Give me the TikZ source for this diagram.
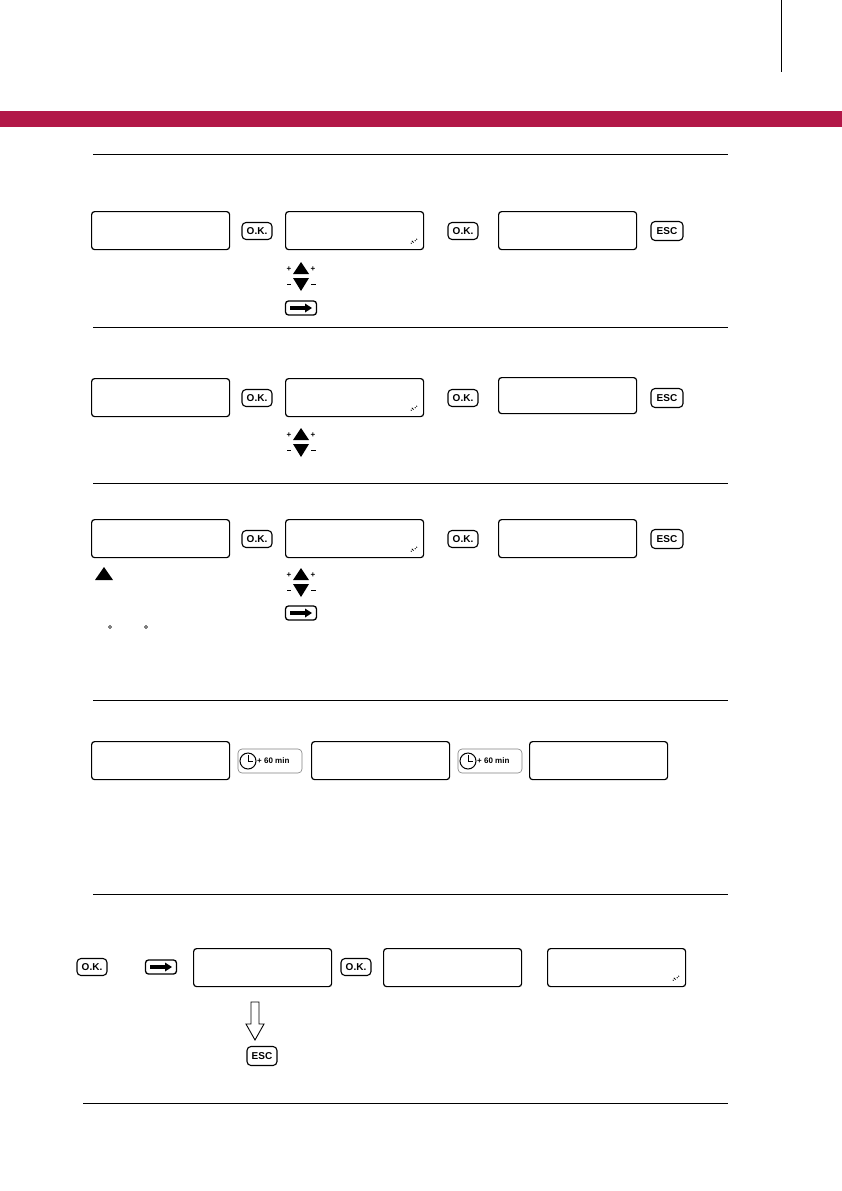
\documentclass[tikz,border=0pt]{standalone}
\usepackage{fontspec}
\setmainfont{Liberation Sans}
\begin{document}
\begin{tikzpicture}[x=1pt,y=-1pt,
 disp/.style={draw,line width=1.2pt,rounded corners=3pt,minimum width=138pt,minimum height=38pt,anchor=north west,inner sep=0},
 btn/.style={draw,line width=1.1pt,rounded corners=4pt,font=\bfseries\fontsize{10}{10}\selectfont,inner sep=1pt,minimum height=17pt,minimum width=30pt},
 rule/.style={line width=0.8pt}]
\useasboundingbox (0,0) rectangle (842,1191);
\fill[white] (0,0) rectangle (842,1191);
\draw[line width=0.8pt] (781,0) -- (781,72);
\fill[fill={rgb,255:red,178;green,24;blue,72}] (0,111) rectangle (842,127);
\foreach \y in {154,327,483,700,894} \draw[rule] (93,\y) -- (728,\y);
\draw[rule] (83,1103) -- (728,1103);
\newcommand{\chk}[1]{\fill (#1)++(-13,-7) circle (0.7) ++(2,-1) circle(0.7) ++(2,-1.5) circle(0.7) ++(1.5,-1.5) circle (0.7) ++(-4.5,2) circle (0.7);}
\newcommand{\updown}[2]{
 \fill (#1+16,#2) -- (#1+24,#2+12) -- (#1+8,#2+12) -- cycle;
 \fill (#1+8,#2+16) -- (#1+24,#2+16) -- (#1+16,#2+29) -- cycle;
 \node[font=\bfseries\fontsize{8}{8}\selectfont,inner sep=0] (p1) at (#1+4,#2+7) {+};
 \node[font=\bfseries\fontsize{8}{8}\selectfont,inner sep=0] (p2) at (#1+28,#2+7) {+};
 \fill (#1+1.5,#2+21.5) rectangle (#1+6,#2+23);
 \fill (#1+26,#2+21.5) rectangle (#1+30.5,#2+23);}
\newcommand{\arrbtn}[3]{
 \node[draw,line width=1.3pt,rounded corners=3pt,minimum width=31pt,minimum height=14pt,inner sep=0] (#3) at (#1,#2) {};
 \fill (#1-11,#2-1.7) rectangle (#1+5,#2+1.7); \fill (#1+4,#2-4.5) -- (#1+11,#2) -- (#1+4,#2+4.5) -- cycle;}
% section 1
\node[disp] (a1) at (91,211) {};
\node[btn] (o1) at (257,231) {O.K.};
\node[disp] (b1) at (285,211) {};
\node[btn] (o2) at (463,231) {O.K.};
\node[disp] (c1) at (498,211) {};
\node[btn,minimum width=32pt,minimum height=19pt] (e1) at (667,231) {ESC};
\chk{b1.south east}
\updown{285}{262}
\arrbtn{301}{308}{r1}
% section 2
\node[disp] (a2) at (91,378) {};
\node[btn] (o3) at (257,398) {O.K.};
\node[disp] (b2) at (285,378) {};
\node[btn] (o4) at (463,398) {O.K.};
\node[disp,minimum height=36pt] (c2) at (498,377) {};
\node[btn,minimum width=32pt,minimum height=19pt] (e2) at (667,398) {ESC};
\chk{b2.south east}
\updown{285}{428}
% section 3
\node[disp] (a3) at (91,519) {};
\node[btn] (o5) at (257,539) {O.K.};
\node[disp] (b3) at (285,519) {};
\node[btn] (o6) at (463,539) {O.K.};
\node[disp] (c3) at (498,519) {};
\node[btn,minimum width=32pt,minimum height=19pt] (e3) at (667,539) {ESC};
\chk{b3.south east}
\updown{285}{568}
\arrbtn{301}{613}{r2}
\fill (104,567) -- (113,580) -- (95,580) -- cycle;
\draw[line width=0.6pt] (110,627) circle (1.5) (146,627) circle (1.5);
% section 4
\node[disp] (a4) at (91,741) {};
\node[disp] (b4) at (311,741) {};
\node[disp] (c4) at (529,741) {};
\foreach \x/\n in {270/t1,490/t2}{
 \node[draw=gray,line width=0.6pt,rounded corners=4pt,minimum width=64pt,minimum height=24pt,inner sep=0] (\n) at (\x,761) {};
 \draw[line width=1pt] (\x-22,761) circle (8);
 \draw[line width=1pt] (\x-22,755) -- (\x-22,761) -- (\x-17,761);
 \node[font=\bfseries\fontsize{8}{8}\selectfont,anchor=west,inner sep=0] at (\x-13,761) {+ 60 min};}
% section 5
\node[btn] (o7) at (92,967) {O.K.};
\arrbtn{161}{967}{r3}
\node[disp] (a5) at (193,948) {};
\node[btn] (o8) at (356,967) {O.K.};
\node[disp] (b5) at (383,948) {};
\node[disp] (c5) at (547,948) {};
\chk{c5.south east}
\draw[line width=0.9pt] (251,1002) -- (259,1002) -- (259,1024) -- (264,1024) -- (255,1040) -- (246,1024) -- (251,1024) -- cycle;
\node[btn,minimum height=19pt] (e5) at (262,1056) {ESC};
\end{tikzpicture}
\end{document}
